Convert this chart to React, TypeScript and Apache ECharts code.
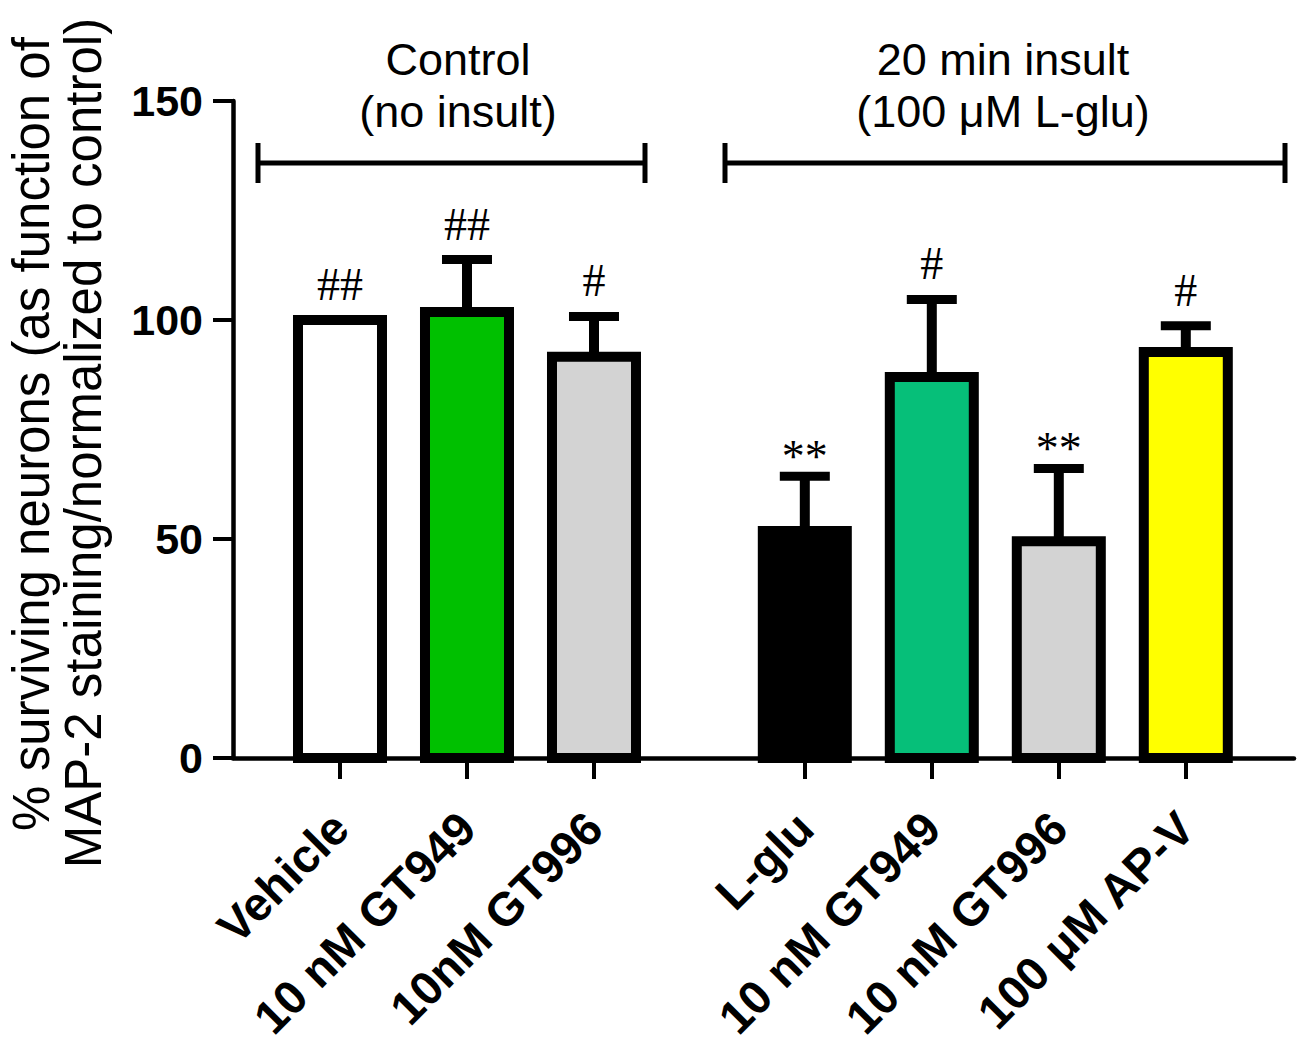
import React, { useEffect, useRef } from "react";
import * as echarts from "echarts";

// ---- data ----
const categories = ["Vehicle", "10 nM GT949", "10nM GT996", "L-glu", "10 nM GT949", "10 nM GT996", "100 μM AP-V"];
const groupOf = ["control", "control", "control", "insult", "insult", "insult", "insult"];
const means = [100, 101.8, 91.6, 51.8, 87.0, 49.5, 92.7];
const sems = [0, 12.0, 9.2, 12.5, 17.7, 16.6, 6.0];
const marks = ["##", "##", "#", "**", "#", "**", "#"];
const barColors = ["#FFFFFF", "#00C000", "#D3D3D3", "#000000", "#06BF79", "#D3D3D3", "#FFFF00"];
const yTickValues = [0, 50, 100, 150];
const groupTitles = ["Control\n(no insult)", "20 min insult\n(100 μM L-glu)"];
const yTitleLines = ["% surviving neurons (as function of", "MAP-2 staining/normalized to control)"];

const SANS = 'Arial, "Liberation Sans", Helvetica, sans-serif';
const SERIF = '"Times New Roman", "Liberation Serif", serif';
const GROUP_GAP = 0.66;
const BAR_W = 84;
const BORDER = 10;

const xs = categories.map((_, i) => i + (groupOf[i] === "insult" ? GROUP_GAP : 0));

function labelFor(v: number) {
  const i = xs.findIndex((p) => Math.abs(p - v) < 1e-6);
  return i >= 0 ? categories[i] : "";
}

function buildOption() {
  return {
    animation: false,
    backgroundColor: "#ffffff",
    grid: { left: 233, right: 4, top: 101, height: 657, outerBoundsMode: "none", containLabel: false },
    xAxis: {
      type: "value",
      min: -0.8425,
      max: 7.512,
      splitLine: { show: false },
      axisLine: { show: true, onZero: false, lineStyle: { color: "#000", width: 4.5 } },
      axisTick: { show: true, customValues: xs, length: 21, lineStyle: { color: "#000", width: 4 } },
      axisLabel: {
        show: true,
        customValues: xs,
        formatter: (v: number) => labelFor(v),
        rotate: 45,
        align: "right",
        verticalAlign: "middle",
        margin: 62,
        color: "#000",
        fontFamily: SANS,
        fontWeight: "bold",
        fontSize: 47,
      },
    },
    yAxis: {
      type: "value",
      min: yTickValues[0],
      max: yTickValues[yTickValues.length - 1],
      interval: yTickValues[1] - yTickValues[0],
      splitLine: { show: false },
      axisLine: { show: true, onZero: false, lineStyle: { color: "#000", width: 4.5 } },
      axisTick: { show: true, length: 20, lineStyle: { color: "#000", width: 4 } },
      axisLabel: {
        margin: 30,
        color: "#000",
        fontFamily: SANS,
        fontWeight: "bold",
        fontSize: 43,
      },
    },
    series: [
      {
        type: "bar",
        barWidth: BAR_W,
        data: xs.map((x, i) => ({ value: [x, means[i]], itemStyle: { color: barColors[i] } })),
        itemStyle: { borderWidth: 0 },
        z: 2,
      },
      {
        type: "custom",
        clip: false,
        z: 3,
        data: xs.map((x, i) => [x, means[i], sems[i], i]),
        renderItem: (params: any, api: any) => {
          const x = api.value(0);
          const m = api.value(1);
          const e = api.value(2);
          const idx = api.value(3);
          const base = api.coord([x, m]);
          const zero = api.coord([x, 0]);
          const top = api.coord([x, m + e]);
          const children: any[] = [];
          // bar outline (stroke centred on the bar edge)
          children.push({
            type: "rect",
            shape: { x: base[0] - BAR_W / 2, y: base[1], width: BAR_W, height: zero[1] - base[1] },
            style: { fill: "none", stroke: "#000", lineWidth: BORDER },
          });
          let topY = base[1] - BORDER / 2;
          if (e > 0) {
            children.push({
              type: "line",
              shape: { x1: base[0], y1: base[1] - 4, x2: base[0], y2: top[1] },
              style: { stroke: "#000", lineWidth: 10 },
            });
            children.push({
              type: "line",
              shape: { x1: top[0] - 25, y1: top[1], x2: top[0] + 25, y2: top[1] },
              style: { stroke: "#000", lineWidth: 9, lineCap: "butt" },
            });
            topY = top[1] - 4.5;
          }
          const mk = marks[idx];
          const off = mk.startsWith("*") ? 15 : 31;
          children.push({
            type: "text",
            x: base[0],
            y: topY - off,
            style: {
              text: mk,
              fill: "#000",
              font: `46px ${SERIF}`,
              align: "center",
              verticalAlign: "middle",
            },
          });
          return { type: "group", children };
        },
      },
    ],
    graphic: [
      {
        type: "text",
        x: 31,
        y: 434,
        rotation: Math.PI / 2,
        style: { text: yTitleLines[0], fill: "#000", font: `51px ${SANS}`, align: "center", verticalAlign: "middle" },
      },
      {
        type: "text",
        x: 83,
        y: 443,
        rotation: Math.PI / 2,
        style: { text: yTitleLines[1], fill: "#000", font: `51px ${SANS}`, align: "center", verticalAlign: "middle" },
      },
      {
        type: "text",
        x: 458,
        y: 85,
        style: { text: groupTitles[0], fill: "#000", font: `45px ${SANS}`, lineHeight: 52, align: "center", verticalAlign: "middle" },
      },
      {
        type: "text",
        x: 1003,
        y: 85,
        style: { text: groupTitles[1], fill: "#000", font: `45px ${SANS}`, lineHeight: 52, align: "center", verticalAlign: "middle" },
      },
      { type: "line", shape: { x1: 258, y1: 163, x2: 645, y2: 163 }, style: { stroke: "#000", lineWidth: 5 } },
      { type: "line", shape: { x1: 258, y1: 143, x2: 258, y2: 183 }, style: { stroke: "#000", lineWidth: 5 } },
      { type: "line", shape: { x1: 645, y1: 143, x2: 645, y2: 183 }, style: { stroke: "#000", lineWidth: 5 } },
      { type: "line", shape: { x1: 725, y1: 163, x2: 1285, y2: 163 }, style: { stroke: "#000", lineWidth: 5 } },
      { type: "line", shape: { x1: 725, y1: 143, x2: 725, y2: 183 }, style: { stroke: "#000", lineWidth: 5 } },
      { type: "line", shape: { x1: 1285, y1: 143, x2: 1285, y2: 183 }, style: { stroke: "#000", lineWidth: 5 } },
    ],
  };
}

export default function App() {
  const ref = useRef<HTMLDivElement>(null);
  useEffect(() => {
    const chart = echarts.init(ref.current!, null, { renderer: "svg" });
    chart.setOption(buildOption() as any);
    return () => chart.dispose();
  }, []);
  return (
    <div
      ref={ref}
      style={{ position: "absolute", left: 0, top: 0, width: 1298, height: 1050, background: "#fff" }}
    />
  );
}
